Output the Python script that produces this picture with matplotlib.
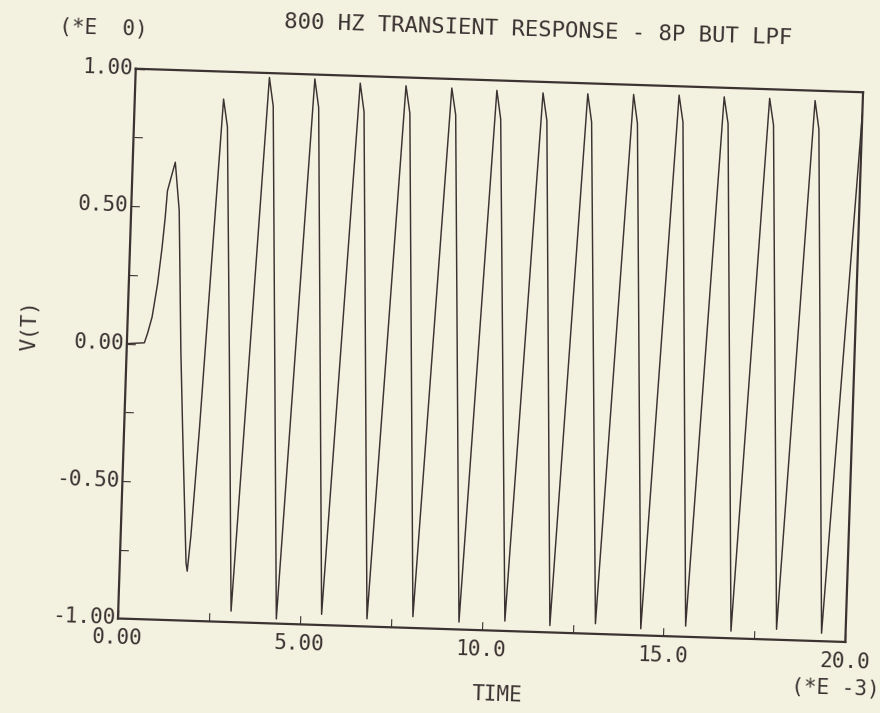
import matplotlib
matplotlib.use("Agg")
import matplotlib.pyplot as plt
from matplotlib.transforms import Affine2D
import mpl_toolkits.axisartist.floating_axes as floating_axes
from mpl_toolkits.axisartist.grid_finder import FixedLocator, DictFormatter

# time in ms (*E -3), V(T) (polyline vertices)
t_ms = [0.00, 0.48, 0.56, 0.67, 0.79, 0.88, 0.94, 0.98, 1.07, 1.17,
        1.32, 1.49, 1.61, 1.82, 1.86, 1.93, 2.07, 2.18,
        2.44, 2.57, 2.82, 3.10,
        3.68, 3.81, 4.35,
        4.93, 5.06, 5.59,
        6.18, 6.31, 6.84,
        7.44, 7.57, 8.10,
        8.70, 8.83, 9.37,
        9.94, 10.07, 10.63,
        11.21, 11.34, 11.87,
        12.44, 12.57, 13.12,
        13.70, 13.83, 14.37,
        14.95, 15.08, 15.60,
        16.19, 16.32, 16.85,
        17.44, 17.57, 18.10,
        18.69, 18.82, 19.34,
        20.00]
v_t = [0.00, 0.005, 0.04, 0.10, 0.22, 0.35, 0.46, 0.56, 0.61, 0.665,
       0.49, -0.02, -0.31, -0.79, -0.82, -0.69, -0.30, 0.06,
       0.90, 0.80, -0.01, -0.96,
       0.984, 0.88, -0.983,
       0.984, 0.88, -0.961,
       0.974, 0.87, -0.972,
       0.970, 0.87, -0.959,
       0.967, 0.87, -0.973,
       0.964, 0.86, -0.964,
       0.960, 0.86, -0.975,
       0.962, 0.86, -0.963,
       0.965, 0.86, -0.976,
       0.968, 0.87, -0.961,
       0.967, 0.87, -0.974,
       0.967, 0.87, -0.962,
       0.964, 0.86, -0.971,
       0.92]

x_ticks = [0, 2.5, 5, 7.5, 10, 12.5, 15, 17.5, 20]
x_labels = ['0.00', '', '5.00', '', '10.0', '', '15.0', '', '20.0']
y_ticks = [-1, -0.75, -0.5, -0.25, 0, 0.25, 0.5, 0.75, 1]
y_labels = ['-1.00', '', '-0.50', '', '0.00', '', '0.50', '', '1.00']

plt.rcParams['font.family'] = ['DejaVu Sans Mono']

paper = '#f3f1df'
ink = '#3b3232'
tilt = -1.85   # the scanned sheet is a little rotated

W, H = 880, 713
fig = plt.figure(figsize=(W / 100, H / 100), dpi=100, facecolor=paper)

tr = Affine2D().scale(729 / 20.0, 551 / 2.0).rotate_deg(tilt)
grid_helper = floating_axes.GridHelperCurveLinear(
    tr, extremes=(0, 20, -1, 1),
    grid_locator1=FixedLocator(x_ticks),
    grid_locator2=FixedLocator(y_ticks),
    tick_formatter1=DictFormatter(dict(zip(x_ticks, x_labels))),
    tick_formatter2=DictFormatter(dict(zip(y_ticks, y_labels))))

ax = fig.add_axes([0.1256, 0.0905, 0.8636, 0.8222],
                  axes_class=floating_axes.FloatingAxes,
                  grid_helper=grid_helper)
ax.patch.set_facecolor(paper)

for side in ['left', 'right', 'top', 'bottom']:
    a = ax.axis[side]
    a.line.set_color(ink)
    a.line.set_linewidth(1.6)
    a.major_ticks.set_color(ink)
    a.major_ticks.set_ticksize(6)
    a.major_ticks.set_linewidth(1.2)
    a.major_ticklabels.set_fontsize(15)
    a.major_ticklabels.set_color(ink)
for side in ['right', 'top']:
    ax.axis[side].toggle(ticks=False, ticklabels=False)
ax.axis['bottom'].major_ticklabels.set_pad(7)
ax.axis['left'].major_ticklabels.set_pad(2)

aux = ax.get_aux_axes(tr)
aux.plot(t_ms, v_t, color=ink, lw=1.05)


def px_text(x, y, s, **kw):
    fig.text(x / W, 1 - y / H, s, color=ink, ha='center', va='center',
             rotation_mode='anchor', **kw)


px_text(538, 30, '800 HZ TRANSIENT RESPONSE - 8P BUT LPF', fontsize=16, rotation=tilt)
px_text(103, 28, '(*E  0)', fontsize=15, rotation=tilt)
px_text(30, 325, 'V(T)', fontsize=15, rotation=90 + tilt)
px_text(497, 695, 'TIME', fontsize=15, rotation=tilt)
px_text(835, 688, '(*E -3)', fontsize=15, rotation=tilt)

fig.savefig('out.png', dpi=100, facecolor=paper)
